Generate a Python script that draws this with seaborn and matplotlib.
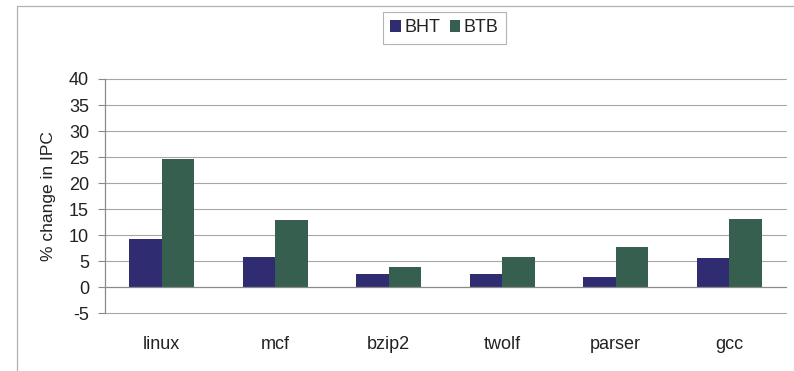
import matplotlib
matplotlib.use("Agg")
import matplotlib.pyplot as plt
from matplotlib.patches import Rectangle
import numpy as np
import pandas as pd
import seaborn as sns

# Benchmarks and the IPC change for each predictor configuration
benchmarks = ["linux", "mcf", "bzip2", "twolf", "parser", "gcc"]
bht_values = [9.2, 5.8, 2.5, 2.5, 1.9, 5.6]
btb_values = [24.7, 12.8, 3.9, 5.7, 7.7, 13.1]
series_names = ["BHT", "BTB"]
y_ticks = [-5, 0, 5, 10, 15, 20, 25, 30, 35, 40]

df = pd.DataFrame({
    "benchmark": benchmarks * 2,
    "series": [series_names[0]] * len(benchmarks) + [series_names[1]] * len(benchmarks),
    "value": bht_values + btb_values,
})

sns.set_theme(style="white")
plt.rcParams["font.family"] = ["Liberation Sans", "DejaVu Sans"]

fig = plt.figure(figsize=(7.94, 3.71), dpi=100)
fig.patch.set_facecolor("white")

# outer chart frame (top and left edges)
fig.add_artist(Rectangle((17 / 794, -0.05), 1.2, 1 - 6 / 371 + 0.05,
                         transform=fig.transFigure, fill=False,
                         edgecolor="#b0b0b0", linewidth=0.9))

ax = fig.add_axes([105 / 794, 1 - 313 / 371, 681 / 794, 234 / 371])

palette = {"BHT": "#302c72", "BTB": "#365f4f"}
sns.barplot(data=df, x="benchmark", y="value", hue="series", order=benchmarks,
            hue_order=series_names, palette=palette, width=0.57, gap=0,
            saturation=1, edgecolor="none", linewidth=0, ax=ax, legend=True)

ax.set_xlim(-0.5, len(benchmarks) - 0.5)
ax.set_ylim(-5, 40)
ax.set_yticks(y_ticks)
ax.set_yticklabels([str(t) for t in y_ticks], fontsize=13, color="#222222")

# horizontal gridlines
for t in y_ticks:
    if t != 0:
        ax.axhline(t, color="#a6a6a6", linewidth=0.8, zorder=0, clip_on=False)

# category axis sits on the zero line
for s in ["top", "right"]:
    ax.spines[s].set_visible(False)
ax.spines["bottom"].set_position(("data", 0))
ax.spines["bottom"].set_color("#8a8a8a")
ax.spines["bottom"].set_linewidth(0.9)
ax.spines["bottom"].set_zorder(3)
ax.spines["left"].set_color("#8a8a8a")
ax.spines["left"].set_linewidth(0.9)

ax.set_xticks(range(len(benchmarks)))
ax.set_xticklabels(benchmarks, fontsize=13, color="#222222")
ax.set_xticks(np.arange(-0.5, len(benchmarks)), minor=True)
ax.tick_params(axis="x", which="major", length=0, pad=35)
ax.tick_params(axis="x", which="minor", length=4, width=0.8, color="#8a8a8a", direction="out")
ax.tick_params(axis="y", which="major", length=5, width=0.8, color="#8a8a8a",
               direction="out", pad=6.5, left=True)

ax.set_xlabel("")
ax.set_ylabel("% change in IPC", fontsize=12.5, color="#222222", va="center")
ax.yaxis.set_label_coords((48 - 105) / 681, 0.5)

# legend at the top of the chart
handles, labels = ax.get_legend_handles_labels()
ax.get_legend().remove()
leg = fig.legend(handles, labels, loc="center", bbox_to_anchor=(444.5 / 794, 1 - 28 / 371),
                 ncol=2, fontsize=13, frameon=True, fancybox=False, shadow=False,
                 handlelength=0.6, handleheight=0.6, handletextpad=0.2,
                 columnspacing=0.5, borderpad=0.4, borderaxespad=0)
leg.get_frame().set_edgecolor("#a0a0a0")
leg.get_frame().set_linewidth(0.8)
for txt in leg.get_texts():
    txt.set_color("#222222")

fig.savefig("out.png", dpi=100, facecolor="white")
